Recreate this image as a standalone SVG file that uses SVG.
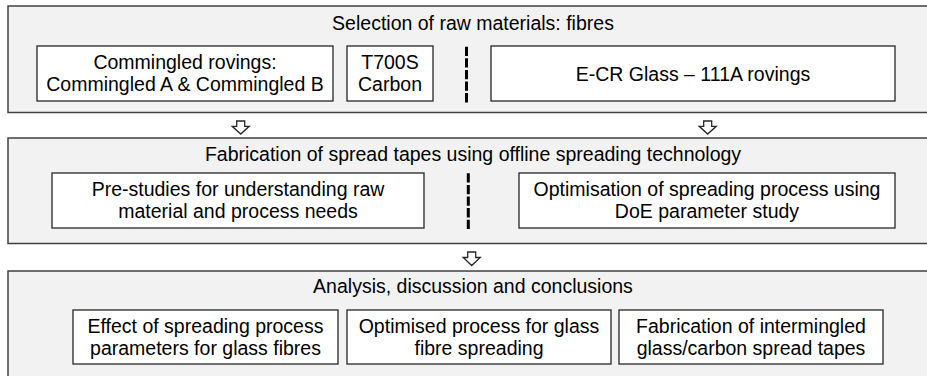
<svg xmlns="http://www.w3.org/2000/svg" width="927" height="376" viewBox="0 0 927 376">
<style>
.stage{fill:#f2f2f2;stroke:#404040;stroke-width:1.5}
.box{fill:#ffffff;stroke:#262626;stroke-width:1.3}
.sep{stroke:#000000;stroke-width:3;stroke-dasharray:9.3 2.3;fill:none}
.arr{fill:#ffffff;stroke:#262626;stroke-width:1.3;stroke-linejoin:miter}
text{font-family:"Liberation Sans",Arial,sans-serif;font-size:19.5px;fill:#000000;text-anchor:middle}
</style>
<rect width="927" height="376" fill="#ffffff"/>
<g id="stage1">
<rect class="stage" x="8" y="6" width="930" height="106.5"/>
<text x="473" y="30">Selection of raw materials: fibres</text>
</g>
<g id="commingled">
<rect class="box" x="37" y="46" width="296" height="55"/>
<text x="185" y="69">Commingled rovings:</text>
<text x="185" y="91">Commingled A &amp; Commingled B</text>
</g>
<g id="t700s">
<rect class="box" x="347" y="46" width="86" height="55"/>
<text x="390" y="69">T700S</text>
<text x="390" y="91">Carbon</text>
</g>
<g id="ecr">
<rect class="box" x="491" y="46" width="404" height="55"/>
<text x="693" y="81">E-CR Glass – 111A rovings</text>
</g>
<g id="stage2">
<rect class="stage" x="8" y="138" width="930" height="105.5"/>
<text x="473" y="161">Fabrication of spread tapes using offline spreading technology</text>
</g>
<g id="prestudies">
<rect class="box" x="52" y="173" width="372" height="55"/>
<text x="238" y="196">Pre-studies for understanding raw</text>
<text x="238" y="218">material and process needs</text>
</g>
<g id="optimisation">
<rect class="box" x="519" y="173" width="376" height="55"/>
<text x="707" y="196">Optimisation of spreading process using</text>
<text x="707" y="218">DoE parameter study</text>
</g>
<g id="stage3">
<rect class="stage" x="8" y="271" width="930" height="120"/>
<text x="473" y="293">Analysis, discussion and conclusions</text>
</g>
<g id="effect">
<rect class="box" x="73" y="310" width="265" height="54"/>
<text x="205.5" y="332.5">Effect of spreading process</text>
<text x="205.5" y="354.5">parameters for glass fibres</text>
</g>
<g id="optimised">
<rect class="box" x="347" y="310" width="264" height="54"/>
<text x="479" y="332.5">Optimised process for glass</text>
<text x="479" y="354.5">fibre spreading</text>
</g>
<g id="fabrication">
<rect class="box" x="619" y="310" width="264" height="54"/>
<text x="751" y="332.5">Fabrication of intermingled</text>
<text x="751" y="354.5">glass/carbon spread tapes</text>
</g>
<g id="connectors">
<line class="sep" x1="466.5" y1="46.7" x2="466.5" y2="102.5"/>
<line class="sep" x1="468.3" y1="173.3" x2="468.3" y2="229"/>
<path class="arr" d="M236.7,121 H244.7 V126.3 H249.2 L240.7,134 L232.2,126.3 H236.7 Z"/>
<path class="arr" d="M703.7,121 H711.7 V126.3 H716.2 L707.7,134 L699.2,126.3 H703.7 Z"/>
<path class="arr" d="M467.7,252 H475.7 V257.5 H480.2 L471.7,265.5 L463.2,257.5 H467.7 Z"/>
</g>
</svg>
